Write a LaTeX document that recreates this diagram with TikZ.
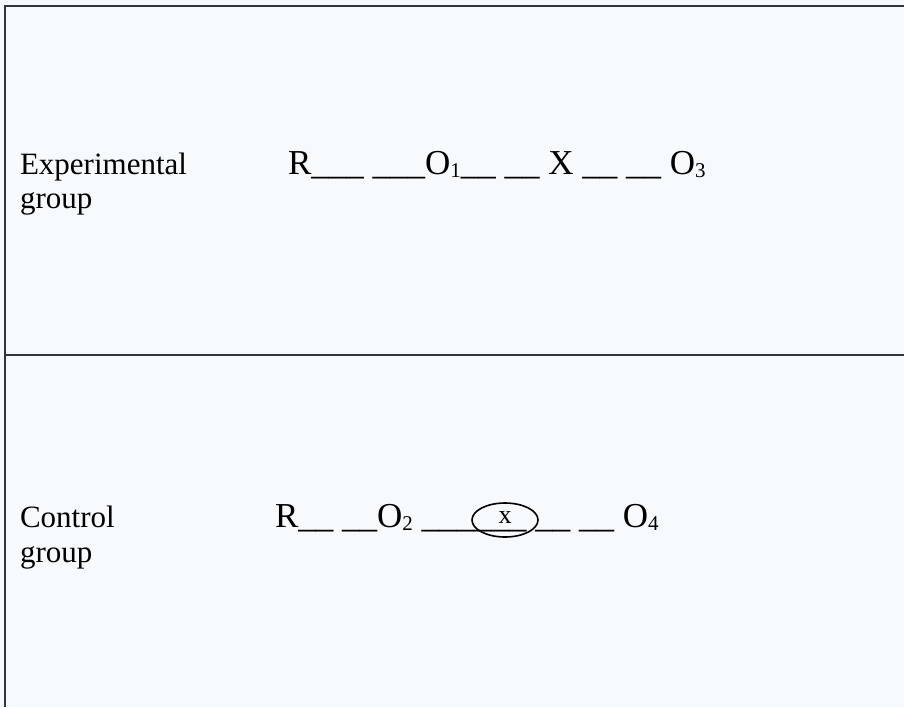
\documentclass[tikz,border=0pt]{standalone}
\usepackage{fontspec}
\setmainfont{Liberation Serif}
\usetikzlibrary{positioning, shapes.geometric}
\definecolor{paper}{RGB}{246,250,252}
\definecolor{rulegray}{RGB}{48,54,58}
\newcommand{\obssub}[1]{\raisebox{-3pt}{\fontsize{21}{24}\selectfont #1}}

\begin{document}
\begin{tikzpicture}[
  x=1pt, y=-1pt,
  every node/.style={inner sep=0pt, outer sep=0pt},
  grp/.style={anchor=base west, font=\fontsize{31}{36}\selectfont},
  design/.style={anchor=base west, font=\fontsize{35}{40}\selectfont},
  rowline/.style={draw=rulegray, line width=2pt},
  treat/.style={ellipse, draw=black, line width=1.6pt, minimum width=66pt,
                minimum height=34pt, text depth=5pt, font=\fontsize{26}{30}\selectfont},
]
\fill[paper] (0,0) rectangle (904,707);
\useasboundingbox (0,0) rectangle (904,707);
% ---- frame ----
\coordinate (tl) at (5,6);
\coordinate (tr) at (904,6);
\coordinate (ml) at (5,355);
\coordinate (mr) at (904,355);
\coordinate (bl) at (5,707);
\draw[rowline] (tr) -- (tl) -- (bl);
\draw[rowline] (ml) -- (mr);
% ---- experimental row ----
\node[grp] (exp1) at (20,174) {Experimental};
\node[grp] (exp2) at (20,208) {group};
\node[design] (expseq) at (288,174)
  {R\_\_\_ \_\_\_O\obssub{1}\_\_ \_\_ X \_\_ \_\_ O\obssub{3}};
% ---- control row ----
\node[grp] (ctl1) at (20,527) {Control};
\node[grp] (ctl2) at (20,562) {group};
\node[design] (ctlseq) at (275,527)
  {R\_\_ \_\_O\obssub{2} \_\_\_\_\_\_ \_\_ \_\_ O\obssub{4}};
\node[treat] (treatx) at (505,520) {x};
\end{tikzpicture}
\end{document}
